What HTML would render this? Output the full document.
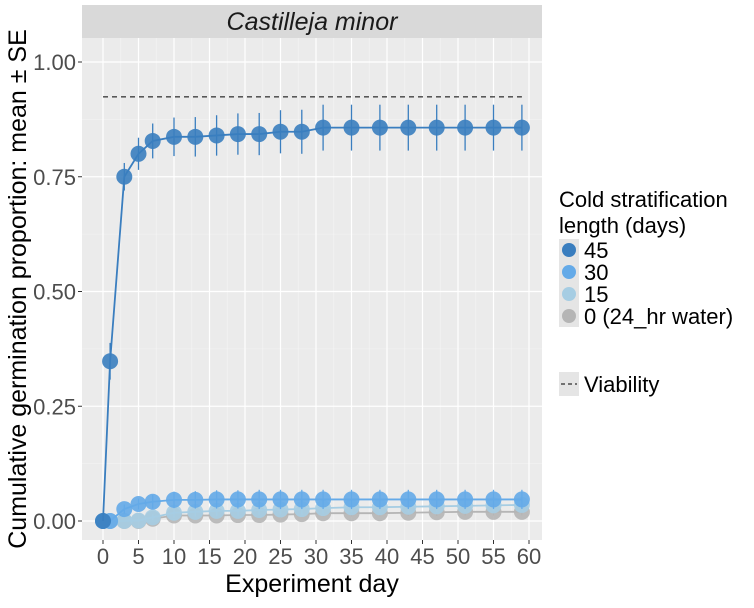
<!DOCTYPE html>
<html><head><meta charset="utf-8"><style>
body{margin:0;background:#fff;font-family:"Liberation Sans",Arial,sans-serif}
svg text{font-family:"Liberation Sans",Arial,sans-serif}
</style></head><body>
<svg id="c" width="754" height="603" xmlns="http://www.w3.org/2000/svg">
<rect x="82" y="5" width="460" height="33" fill="#d9d9d9"/>
<text x="312" y="30" text-anchor="middle" font-size="25" font-style="italic" fill="#1a1a1a">Castilleja minor</text>
<rect x="82" y="38" width="460" height="502" fill="#ebebeb"/>
<g id="grid"></g><g id="marks"></g><g id="axes"></g>
<text x="312" y="592" text-anchor="middle" font-size="25" fill="#000">Experiment day</text>
<text transform="translate(26,289) rotate(-90)" text-anchor="middle" font-size="25" fill="#000">Cumulative germination proportion: mean ± SE</text>
<text x="559" y="207" font-size="22">Cold stratification</text>
<text x="559" y="233" font-size="22">length (days)</text>
<g id="legend"></g>
<rect x="559" y="372" width="20" height="24" fill="#e5e5e5"/>
<line x1="561" y1="384" x2="577" y2="384" stroke="#000" stroke-dasharray="4,3"/>
<text x="584" y="392" font-size="22">Viability</text>
</svg>
<script>
const days=[0,1,3,5,7,10,13,16,19,22,25,28,31,35,39,43,47,51,55,59];
const s45=[0,0.348,0.75,0.80,0.828,0.837,0.837,0.84,0.843,0.843,0.848,0.848,0.857,0.857,0.857,0.857,0.857,0.857,0.857,0.857];
const e45=[0,0.04,0.03,0.035,0.038,0.042,0.043,0.044,0.045,0.046,0.047,0.048,0.05,0.05,0.05,0.05,0.05,0.05,0.05,0.05];
const s30=[0,0,0.026,0.037,0.042,0.046,0.046,0.047,0.047,0.047,0.047,0.047,0.047,0.047,0.047,0.047,0.047,0.047,0.047,0.047];
const e30=[0,0,0.01,0.012,0.015,0.018,0.019,0.02,0.02,0.021,0.021,0.021,0.021,0.021,0.021,0.021,0.021,0.021,0.021,0.021];
const s15=[0,0,0,0.001,0.008,0.018,0.02,0.022,0.022,0.024,0.025,0.026,0.028,0.03,0.03,0.031,0.032,0.033,0.034,0.035];
const e15=[0,0,0,0.003,0.006,0.01,0.01,0.011,0.011,0.011,0.011,0.012,0.012,0.012,0.012,0.012,0.012,0.012,0.012,0.012];
const s0=[0,0,0,0,0.005,0.012,0.012,0.012,0.013,0.013,0.014,0.015,0.017,0.017,0.017,0.018,0.019,0.02,0.02,0.02];
const e0=[0,0,0,0,0.004,0.006,0.006,0.006,0.006,0.006,0.007,0.007,0.007,0.007,0.007,0.007,0.008,0.008,0.008,0.008];
const viability=0.924;
const xTicks=[0,5,10,15,20,25,30,35,40,45,50,55,60];
const yTicks=[0,0.25,0.5,0.75,1.0];
const yLabels=["0.00","0.25","0.50","0.75","1.00"];
const X=d=>103+d*(529-103)/60, Y=v=>521-v*(521-62)/1;
const NS="http://www.w3.org/2000/svg";
function mk(p,t,a){const e=document.createElementNS(NS,t);for(const k in a)e.setAttribute(k,a[k]);document.getElementById(p).appendChild(e);return e;}
for(let i=0;i<xTicks.length-1;i++){const l=mk('grid','line',{x1:X((xTicks[i]+xTicks[i+1])/2),x2:X((xTicks[i]+xTicks[i+1])/2),y1:38,y2:540,stroke:'#f5f5f5','stroke-width':0.6});
}
for(let i=0;i<yTicks.length-1;i++){const l=mk('grid','line',{x1:82,x2:542,y1:Y((yTicks[i]+yTicks[i+1])/2),y2:Y((yTicks[i]+yTicks[i+1])/2),stroke:'#f5f5f5','stroke-width':0.6});
}
xTicks.forEach(t=>{const l=mk('grid','line',{x1:X(t),x2:X(t),y1:38,y2:540,stroke:'#fff','stroke-width':1.2});

const k=mk('axes','line',{x1:X(t),x2:X(t),y1:540,y2:544,stroke:'#333'});

const tx=mk('axes','text',{x:X(t),y:564,'text-anchor':'middle','font-size':22,fill:'#4d4d4d'});tx.textContent=t;
});
yTicks.forEach((t,i)=>{const l=mk('grid','line',{x1:82,x2:542,y1:Y(t),y2:Y(t),stroke:'#fff','stroke-width':1.2});

const k=mk('axes','line',{x1:78,x2:82,y1:Y(t),y2:Y(t),stroke:'#333'});

const tx=mk('axes','text',{x:76,y:Y(t)+8,'text-anchor':'end','font-size':22,fill:'#4d4d4d'});tx.textContent=yLabels[i];
});
const vl=mk('marks','line',{x1:X(0),x2:X(59),y1:Y(viability),y2:Y(viability),stroke:'#000','stroke-dasharray':'5,4','stroke-width':1});

const series=[[s0,e0,'#b5b5b5','0'],[s15,e15,'#a6cde3','15'],[s30,e30,'#64aae8','30'],[s45,e45,'#3a7ebf','45']];
series.forEach(([s,e,c,n])=>{
 const pl=mk('marks','polyline',{points:days.map((d,i)=>X(d)+','+Y(s[i])).join(' '),fill:'none',stroke:c,'stroke-width':1.8});
 
 days.forEach((d,i)=>{if(e[i]>0){const b=mk('marks','line',{x1:X(d),x2:X(d),y1:Y(s[i]-e[i]),y2:Y(s[i]+e[i]),stroke:c,'stroke-width':1.3});
 }
 const p=mk('marks','circle',{cx:X(d),cy:Y(s[i]),r:8,fill:c,'fill-opacity':0.9});
 });
});
const leg=[['45','#3a7ebf'],['30','#64aae8'],['15','#a6cde3'],['0 (24_hr water)','#b5b5b5']];
leg.forEach(([t,c],i)=>{const y=250+i*22;
 const r=mk('legend','rect',{x:559,y:y-11,width:20,height:22,fill:'#e5e5e5'});
 
 const ci=mk('legend','circle',{cx:569,cy:y,r:7,fill:c});
 
 const tx=mk('legend','text',{x:584,y:y+8,'font-size':22});tx.textContent=t;
 });
</script>
</body></html>
